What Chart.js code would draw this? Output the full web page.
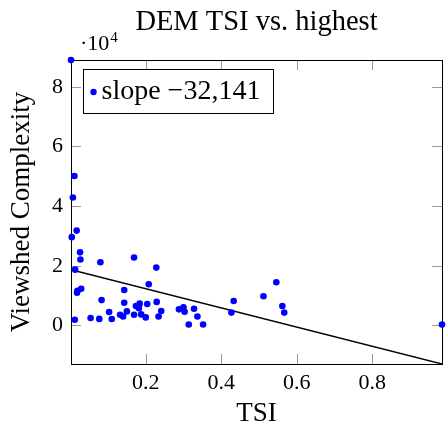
<!DOCTYPE html>
<html>
<head>
<meta charset="utf-8">
<script src="https://cdn.jsdelivr.net/npm/chart.js@4.4.0/dist/chart.umd.min.js"></script>
<style>
html, body { margin: 0; padding: 0; background: #fff; }
</style>
</head>
<body>
<canvas id="chart" width="446" height="430"></canvas>
<script>
// Values
const tsi = [0.002, 0.011, 0.007, 0.017, 0.004, 0.026, 0.027, 0.080, 0.013, 0.018,
	0.019, 0.029, 0.012, 0.054, 0.077, 0.083, 0.103, 0.110, 0.169, 0.143,
	0.143, 0.132, 0.140, 0.150, 0.169, 0.174, 0.184, 0.182, 0.188, 0.200,
	0.204, 0.208, 0.228, 0.229, 0.234, 0.241, 0.288, 0.300, 0.303, 0.328,
	0.337, 0.314, 0.352, 0.427, 0.433, 0.512, 0.546, 0.562, 0.567, 0.985];
const complexity = [89000, 50100, 42900, 31800, 29600, 24500, 22100, 21200, 18700, 11000,
	11600, 12300, 1900, 2500, 2200, 8500, 4500, 2150, 22800, 11900,
	7600, 3600, 3000, 4700, 3600, 6500, 7300, 5800, 3700, 2700,
	7200, 13800, 19400, 7900, 3000, 4800, 5400, 6100, 4600, 5600,
	3000, 300, 300, 4300, 8200, 9800, 14500, 6500, 4300, 300];

// Regression line end points
const fitX = [0.002, 0.985];
const fitY = [18660, -12930];

const xTicks = [0.2, 0.4, 0.6, 0.8];
const yTicks = [0, 20000, 40000, 60000, 80000];

const titleText = 'DEM TSI vs. highest';
const xTitle = 'TSI';
const yTitle = 'Viewshed Complexity';
const legendText = 'slope \u221232,141';

const serif = "'Liberation Serif', 'Times New Roman', serif";
const blue = '#0000ff';

// Frame, inward ticks, title, exponent and legend box
const framePlugin = {
	id: 'frame',
	beforeDatasetsDraw(chart) {
		const { ctx, chartArea: a, scales: { x, y } } = chart;
		const len = 10;
		ctx.save();
		ctx.strokeStyle = '#9a9a9a';
		ctx.lineWidth = 1;
		ctx.beginPath();
		for (let v of xTicks) {
			const px = Math.round(x.getPixelForValue(v)) + 0.5;
			ctx.moveTo(px, a.top); ctx.lineTo(px, a.top + len);
			ctx.moveTo(px, a.bottom); ctx.lineTo(px, a.bottom - len);
		}
		for (let v of yTicks) {
			const py = Math.round(y.getPixelForValue(v)) + 0.5;
			ctx.moveTo(a.left, py); ctx.lineTo(a.left + len, py);
			ctx.moveTo(a.right, py); ctx.lineTo(a.right - len, py);
		}
		ctx.stroke();
		ctx.strokeStyle = '#000';
		ctx.strokeRect(Math.round(a.left) + 0.5, Math.round(a.top) + 0.5,
			Math.round(a.right - a.left), Math.round(a.bottom - a.top));
		ctx.restore();
	},
	afterDraw(chart) {
		const { ctx, chartArea: a } = chart;
		ctx.save();
		ctx.fillStyle = '#000';
		ctx.textBaseline = 'alphabetic';

		// title
		ctx.font = '28.5px ' + serif;
		ctx.textAlign = 'center';
		ctx.fillText(titleText, (a.left + a.right) / 2, 30);

		// y scale factor
		ctx.textAlign = 'left';
		ctx.font = '22px ' + serif;
		ctx.fillText('\u00b710', a.left + 9, 50);
		const w = ctx.measureText('\u00b710').width;
		ctx.font = '15px ' + serif;
		ctx.fillText('4', a.left + 9 + w + 1, 42);

		// legend
		ctx.font = '28px ' + serif;
		const tw = ctx.measureText(legendText).width;
		const lx = a.left + 12, ly = a.top + 9;
		const bw = 18.5 + tw + 13, bh = 44;
		ctx.fillStyle = '#fff';
		ctx.fillRect(lx, ly, bw, bh);
		ctx.strokeStyle = '#000';
		ctx.lineWidth = 1;
		ctx.strokeRect(Math.round(lx) + 0.5, Math.round(ly) + 0.5, Math.round(bw), bh);
		ctx.fillStyle = blue;
		ctx.beginPath();
		ctx.arc(lx + 10.5, ly + bh / 2 + 1, 3.2, 0, Math.PI * 2);
		ctx.fill();
		ctx.fillStyle = '#000';
		ctx.textBaseline = 'middle';
		ctx.fillText(legendText, lx + 18.5, ly + bh / 2 + 1);
		ctx.restore();
	}
};

window.onload = function() {
	const data = tsi.map((v, i) => ({ x: v, y: complexity[i] }));
	const fit = fitX.map((v, i) => ({ x: v, y: fitY[i] }));

	new Chart(document.getElementById('chart'), {
		type: 'scatter',
		data: {
			datasets: [
				{
					data: data,
					backgroundColor: blue,
					borderColor: blue,
					borderWidth: 0,
					pointRadius: 3.3,
					clip: false
				},
				{
					type: 'line',
					data: fit,
					borderColor: '#000',
					borderWidth: 1.4,
					pointRadius: 0,
					fill: false
				}
			]
		},
		options: {
			responsive: false,
			animation: false,
			layout: { padding: { left: 0, right: 3, top: 60, bottom: 0 } },
			plugins: {
				legend: { display: false },
				title: { display: false },
				tooltip: { enabled: false }
			},
			scales: {
				x: {
					type: 'linear',
					min: fitX[0],
					max: fitX[1],
					grid: { display: false, drawTicks: false },
					border: { display: false },
					afterBuildTicks: (s) => { s.ticks = xTicks.map(v => ({ value: v })); },
					afterFit: (s) => { s.height = 66; },
					ticks: {
						color: '#000',
						font: { family: serif, size: 22 },
						padding: 6,
						callback: (v) => v.toFixed(1)
					},
					title: {
						display: true,
						text: xTitle,
						color: '#000',
						font: { family: serif, size: 27 },
						padding: { top: 0, bottom: 0 }
					}
				},
				y: {
					type: 'linear',
					min: fitY[1],
					max: complexity[0],
					grid: { display: false, drawTicks: false },
					border: { display: false },
					afterBuildTicks: (s) => { s.ticks = yTicks.map(v => ({ value: v })); },
					afterFit: (s) => { s.width = 71; },
					ticks: {
						color: '#000',
						font: { family: serif, size: 22 },
						padding: 8,
						callback: (v) => String(v / 10000)
					},
					title: {
						display: true,
						text: yTitle,
						color: '#000',
						font: { family: serif, size: 27 },
						padding: { top: 6, bottom: 0 }
					}
				}
			}
		},
		plugins: [framePlugin]
	});
};
</script>
</body>
</html>
